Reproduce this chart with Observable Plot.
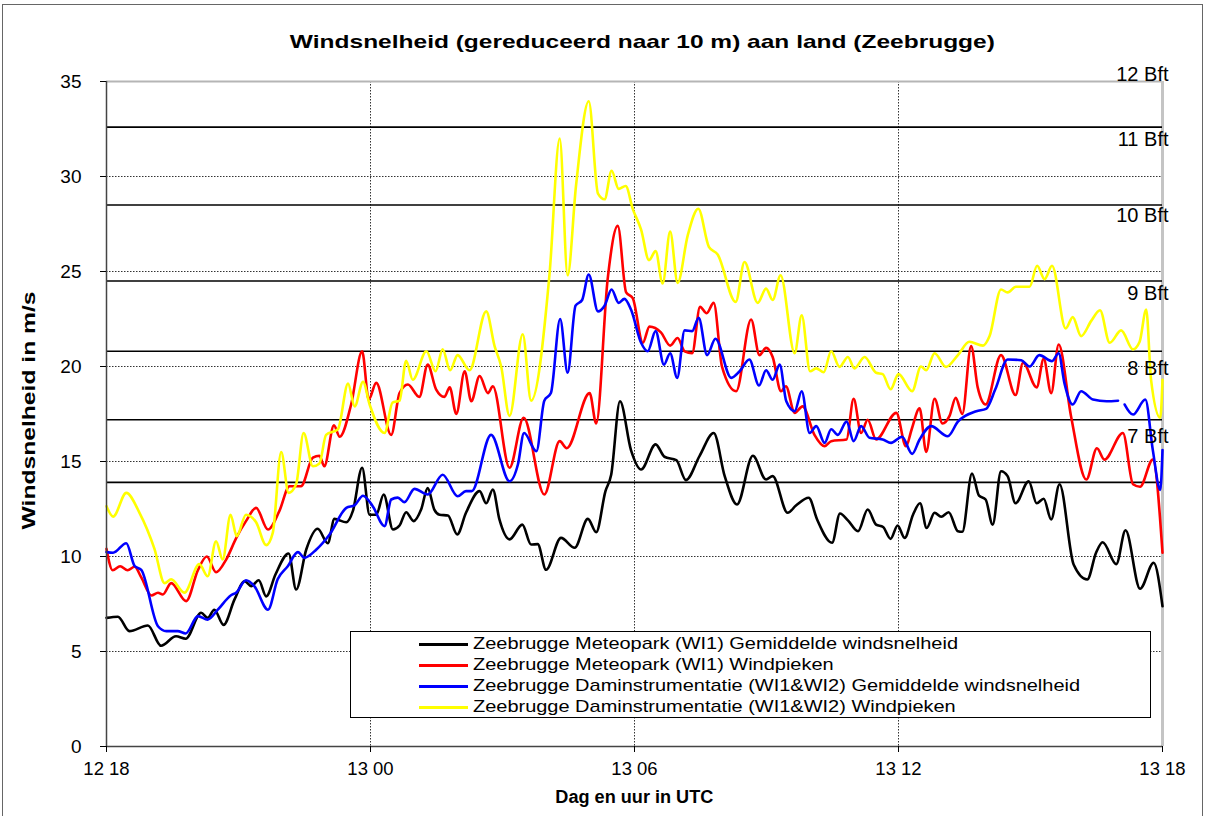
<!DOCTYPE html>
<html><head><meta charset="utf-8">
<script src="https://cdn.jsdelivr.net/npm/d3@7"></script>
<script src="https://cdn.jsdelivr.net/npm/@observablehq/plot@0.6"></script>
<style>
body{margin:0;background:#fff;font-family:"Liberation Sans",Arial,sans-serif;}
#wrap{position:relative;width:1205px;height:816px;overflow:hidden;background:#fff;}
#frame{position:absolute;left:2px;top:4px;width:1199px;height:830px;border:1px solid #666;pointer-events:none;}
.txt{position:absolute;white-space:nowrap;font-weight:bold;}
#legend{position:absolute;left:350px;top:631px;width:799px;height:85px;border:1px solid #000;background:#fff;font-size:17px;}
.row{position:absolute;left:0;height:20px;display:flex;align-items:center;}
.sw{width:49px;height:3px;margin-left:68px;margin-right:5px;flex:none;}
.lt{display:inline-block;transform-origin:0 50%;white-space:nowrap;}
</style></head>
<body>
<div id="wrap">
  <div id="chart"></div>
  <div id="legend"></div>
  <div id="frame"></div>
</div>
<script>
// x = hours since 12 18 UTC
const titleText = "Windsnelheid (gereduceerd naar 10 m) aan land (Zeebrugge)";
const yTitle = "Windsnelheid in m/s";
const xTitle = "Dag en uur in UTC";
const xTicks = [0, 6, 12, 18, 24];
const xTickLabels = ["12 18", "13 00", "13 06", "13 12", "13 18"];
const yTicks = [0, 5, 10, 15, 20, 25, 30, 35];
const bftLevels = [13.9, 17.2, 20.8, 24.5, 28.5, 32.6];
const bftLabels = ["7 Bft", "8 Bft", "9 Bft", "10 Bft", "11 Bft", "12 Bft"];
const bftLabelAt = [16.3, 19.9, 23.85, 27.95, 31.95, 35.35];

const seriesNames = [
  "Zeebrugge Meteopark (WI1) Gemiddelde windsnelheid",
  "Zeebrugge Meteopark (WI1) Windpieken",
  "Zeebrugge Daminstrumentatie (WI1&WI2) Gemiddelde windsnelheid",
  "Zeebrugge Daminstrumentatie (WI1&WI2) Windpieken"
];
const seriesColors = ["#000000", "#ff0000", "#0000ff", "#ffff00"];

const blackHours = [0,0.26,0.52,0.94,1.24,1.58,1.8,2.15,2.3,2.45,2.66,2.91,3.14,3.29,3.46,3.63,3.84,4.14,4.31,4.54,4.8,5.03,5.18,5.45,5.6,5.81,5.98,6.13,6.3,6.51,6.66,6.81,6.98,7.15,7.3,7.45,7.57,7.76,7.97,8.17,8.48,8.63,8.78,8.93,9.16,9.45,9.65,9.8,9.99,10.33,10.64,10.94,11.13,11.34,11.47,11.67,11.92,12.15,12.48,12.68,12.95,13.17,13.48,13.8,14.05,14.33,14.69,14.99,15.14,15.48,15.67,15.96,16.15,16.49,16.67,16.85,17.08,17.3,17.49,17.65,17.82,17.98,18.14,18.33,18.49,18.64,18.82,18.97,19.14,19.35,19.45,19.67,19.83,19.98,20.14,20.33,20.48,20.66,20.96,21.14,21.3,21.47,21.66,21.98,22.29,22.49,22.64,22.95,23.16,23.49,23.8,24];
const blackSpeed = [6.77,6.83,6.07,6.37,5.3,5.8,5.67,7.04,6.77,7.2,6.4,7.74,8.7,8.44,8.75,7.9,9.05,10.16,8.26,10.37,11.46,10.7,11.98,11.8,12.4,14.67,12.2,12.2,13.26,11.42,11.63,12.33,11.86,12.47,13.6,12.47,12.2,12.16,11.16,12.3,13.44,12.8,13.53,11.95,10.9,11.68,10.63,10.65,9.3,10.98,10.46,11.98,11.28,13.44,14.3,18.17,15.6,14.58,15.9,15.25,15.07,14.02,15.3,16.5,14.23,12.74,15.3,14.05,14.23,12.3,12.68,13.09,11.95,10.72,12.26,11.9,11.33,12.47,11.68,11.55,10.93,11.63,10.98,12.2,12.8,11.5,12.3,12.09,12.33,11.33,11.3,14.37,13.2,13.0,11.68,14.49,14.23,12.8,13.96,12.8,13.04,11.95,13.8,9.58,8.79,10.2,10.75,9.6,11.38,8.3,9.67,7.38];

const redHours = [0,0.14,0.31,0.48,0.64,0.79,1.02,1.17,1.28,1.47,1.81,2.08,2.28,2.49,2.72,2.95,3.17,3.4,3.67,3.93,4.16,4.42,4.69,4.84,4.95,5.17,5.3,5.56,5.81,5.96,6.13,6.47,6.66,6.85,7.11,7.3,7.49,7.68,7.8,7.95,8.14,8.29,8.48,8.67,8.78,9.16,9.48,9.95,10.3,10.46,10.98,11.13,11.39,11.62,11.81,11.96,12.19,12.34,12.6,12.81,12.98,13.14,13.31,13.49,13.64,13.8,13.99,14.31,14.65,14.84,14.99,15.14,15.33,15.44,15.64,15.82,16.09,16.32,16.47,16.82,16.98,17.15,17.3,17.49,17.95,18.17,18.3,18.48,18.63,18.82,19.0,19.16,19.3,19.45,19.65,19.8,19.98,20.33,20.66,20.83,21.14,21.3,21.47,21.64,21.92,22.27,22.51,22.68,23.1,23.33,23.49,23.78,24];
const redSpeed = [10.4,9.28,9.49,9.28,9.46,8.9,7.95,8.09,8.0,8.6,7.65,9.3,10.0,9.17,9.84,10.98,11.86,12.56,11.42,12.4,13.7,13.7,15.2,15.3,14.75,16.9,16.3,18.0,20.8,18.26,19.14,16.4,18.6,19.05,18.4,20.1,18.8,18.4,18.9,17.5,19.75,18.17,19.5,18.6,18.96,14.67,17.3,13.26,16.07,15.7,18.6,17.0,24.6,27.4,23.9,23.6,21.25,22.1,21.8,21.1,21.5,20.8,20.7,23.14,22.8,23.35,19.98,18.7,22.47,20.6,20.98,20.5,18.7,18.96,17.56,17.9,16.4,15.8,16.07,16.16,18.3,16.5,17.2,16.16,17.56,15.8,16.7,17.8,15.5,18.3,17.0,17.4,18.35,17.5,21.07,18.9,18.0,20.6,18.5,20.2,18.9,20.4,18.6,21.16,17.4,14.05,15.7,15.1,16.5,13.8,13.67,15.1,10.2];

const blueHours = [0,0.15,0.45,0.64,0.79,1.17,1.36,1.62,1.8,2.08,2.3,2.53,2.83,2.95,3.17,3.36,3.67,3.89,4.12,4.35,4.5,4.77,5.07,5.45,5.64,5.83,6.05,6.32,6.47,6.62,6.77,7.0,7.3,7.64,7.98,8.17,8.3,8.74,9.16,9.35,9.49,9.77,9.95,10.1,10.31,10.48,10.66,10.81,10.96,11.17,11.32,11.48,11.64,11.77,11.92,12.15,12.3,12.48,12.67,12.81,12.97,13.14,13.31,13.46,13.65,13.84,14.2,14.39,14.61,14.83,14.99,15.14,15.3,15.45,15.64,15.8,15.98,16.13,16.32,16.47,16.62,16.82,16.98,17.15,17.34,17.64,17.83,18.08,18.31,18.48,18.74,19.12,19.35,19.77,19.99,20.2,20.48,20.79,20.98,21.2,21.49,21.64,21.77,21.96,22.15,22.42,22.73,22.99,23.06,23.14,23.33,23.61,23.78,23.95,24];
const blueSpeed = [10.23,10.2,10.7,9.5,9.3,6.33,6.07,6.07,5.95,6.86,6.68,7.2,7.96,8.1,8.75,8.44,7.2,8.8,9.49,10.23,9.93,10.37,11.16,12.56,12.7,13.2,12.65,11.6,13.0,13.1,12.86,13.56,13.26,14.3,13.17,13.44,13.44,16.4,13.96,14.84,16.5,15.54,18.2,18.6,22.5,19.67,23.2,23.5,24.84,22.9,23.2,24.05,23.35,23.56,23.0,21.25,20.8,21.86,20.1,20.7,19.4,21.9,21.86,22.56,20.6,21.46,19.4,19.75,20.37,19.0,19.8,19.3,20.1,18.17,17.65,18.7,16.5,16.86,15.98,16.7,16.4,17.1,16.07,16.86,16.25,16.16,15.98,16.3,15.4,16.16,16.86,16.33,17.1,17.65,17.77,18.8,20.37,20.33,20.0,20.6,20.28,20.7,19.14,18.0,18.7,18.26,18.17,18.2,null,18.0,17.47,18.26,15.6,13.5,15.6];

const yellowHours = [0,0.15,0.45,0.75,1.09,1.32,1.47,1.77,2.11,2.3,2.49,2.64,2.82,2.96,3.17,3.4,3.63,3.78,3.97,4.14,4.31,4.48,4.69,4.84,4.99,5.26,5.49,5.64,5.83,5.98,6.32,6.5,6.66,6.81,6.96,7.27,7.48,7.64,7.81,7.98,8.25,8.63,8.82,8.97,9.16,9.46,9.65,10.07,10.3,10.48,10.67,10.96,11.17,11.32,11.48,11.64,11.8,11.96,12.15,12.33,12.48,12.64,12.81,12.98,13.21,13.45,13.69,13.89,14.3,14.5,14.8,14.99,15.14,15.32,15.64,15.8,15.99,16.13,16.3,16.47,16.66,16.85,17.0,17.23,17.49,17.64,17.82,18.0,18.31,18.51,18.63,18.82,19.08,19.35,19.61,19.92,20.07,20.33,20.48,20.67,20.98,21.15,21.32,21.49,21.8,21.96,22.15,22.38,22.58,22.8,23.06,23.33,23.48,23.63,23.74,23.95,24];
const yellowSpeed = [12.65,12.1,13.35,12.3,10.4,8.6,8.8,8.1,9.6,8.96,10.8,9.84,12.2,11.07,12.2,11.8,10.6,11.26,15.5,13.35,13.8,16.5,14.75,14.9,16.4,16.7,19.1,17.9,19.2,18.0,16.5,18.1,18.2,20.3,19.3,20.8,19.75,20.9,19.8,20.6,19.8,22.9,21.07,20.0,17.4,21.7,18.2,24.9,32.0,24.8,29.5,33.96,29.1,28.8,30.3,29.35,29.5,28.3,27.2,25.6,26.07,24.37,27.1,24.4,26.9,28.3,26.3,25.9,23.4,25.5,23.35,24.1,23.5,24.8,20.7,22.7,19.75,19.9,19.7,20.8,19.98,20.5,19.9,20.5,19.67,19.6,18.8,19.6,18.7,20.0,19.8,20.7,19.98,20.6,21.3,21.1,21.6,24.05,23.9,24.2,24.2,25.3,24.6,25.3,22.0,22.6,21.6,22.4,22.96,21.25,21.9,20.9,21.3,23.0,19.3,17.3,19.3];

const seriesHours = [blackHours, redHours, blueHours, yellowHours];
const seriesSpeed = [blackSpeed, redSpeed, blueSpeed, yellowSpeed];

const rows = [];
seriesNames.forEach((name, s) => {
  seriesHours[s].forEach((h, i) => rows.push({series: name, hour: h, speed: seriesSpeed[s][i]}));
});
const gridYValues = yTicks.filter(v => v > 0 && v < 35);
const gridXValues = xTicks.filter(v => v > 0 && v < 24);
const bftRows = bftLabels.map((t, i) => ({label: t, at: bftLabelAt[i]}));

const chart = Plot.plot({
  width: 1205,
  height: 816,
  marginTop: 81,
  marginLeft: 106,
  marginRight: 43,
  marginBottom: 70,
  style: {fontFamily: '"Liberation Sans", Arial, sans-serif', fontSize: "18px", background: "white", color: "black", overflow: "visible"},
  x: {domain: [0, 24]},
  y: {domain: [0, 35]},
  color: {domain: seriesNames, range: seriesColors},
  marks: [
    Plot.ruleY(gridYValues, {stroke: "#333", strokeWidth: 1, strokeDasharray: "1.5,1.5"}),
    Plot.ruleX(gridXValues, {stroke: "#333", strokeWidth: 1, strokeDasharray: "1.5,1.5"}),
    Plot.ruleY([35], {stroke: "#b5b5b5", strokeWidth: 2}),
    Plot.ruleX([24], {stroke: "#c4c4c4", strokeWidth: 3}),
    Plot.ruleY(bftLevels, {stroke: "#000", strokeWidth: 1.6}),
    Plot.line(rows, {x: "hour", y: "speed", z: "series", stroke: "series", strokeWidth: 2.6, curve: "monotone-x"}),
    Plot.ruleX([0], {stroke: "#444", strokeWidth: 1.5}),
    Plot.ruleY([0], {stroke: "#444", strokeWidth: 1.5}),
    Plot.axisY({ticks: yTicks, tickSize: 6, tickPadding: 19, label: null, fontSize: 19}),
    Plot.axisX({ticks: xTicks, tickFormat: d => xTickLabels[xTicks.indexOf(d)], tickSize: 6, tickPadding: 9, label: null, fontSize: 18.5}),
    Plot.text(bftRows, {x: () => 24, y: "at", text: "label", textAnchor: "end", dx: 6, fontSize: 20})
  ]
});
document.getElementById("chart").appendChild(chart);

const wrap = document.getElementById("wrap");
// helper: text stretched horizontally to a target length, centred at (cx, cy)
function stretched(text, size, targetLen, cx, cy, rotate) {
  const el = document.createElement("div");
  el.className = "txt";
  el.style.fontSize = size + "px";
  el.textContent = text;
  wrap.insertBefore(el, document.getElementById("legend"));
  const w = el.getBoundingClientRect().width;
  const h = el.getBoundingClientRect().height;
  const s = targetLen / w;
  el.style.left = (cx - w / 2) + "px";
  el.style.top = (cy - h / 2) + "px";
  el.style.transformOrigin = "50% 50%";
  el.style.transform = (rotate ? "rotate(-90deg) " : "") + "scaleX(" + s + ")";
}
stretched(titleText, 19, 705, 642, 42, false);
stretched(yTitle, 18, 238, 30, 410, true);
stretched(xTitle, 17.5, 158, 634, 797, false);

const legend = document.getElementById("legend");
let scale = 1;
seriesNames.forEach((name, i) => {
  const row = document.createElement("div");
  row.className = "row";
  row.style.top = (2 + i * 21) + "px";
  const sw = document.createElement("div");
  sw.className = "sw";
  sw.style.background = seriesColors[i];
  const tx = document.createElement("span");
  tx.className = "lt";
  tx.textContent = name;
  row.appendChild(sw);
  row.appendChild(tx);
  legend.appendChild(row);
  if (i === 0) scale = 485 / tx.getBoundingClientRect().width;
  tx.style.transform = "scaleX(" + scale + ")";
});
</script>
</body></html>
